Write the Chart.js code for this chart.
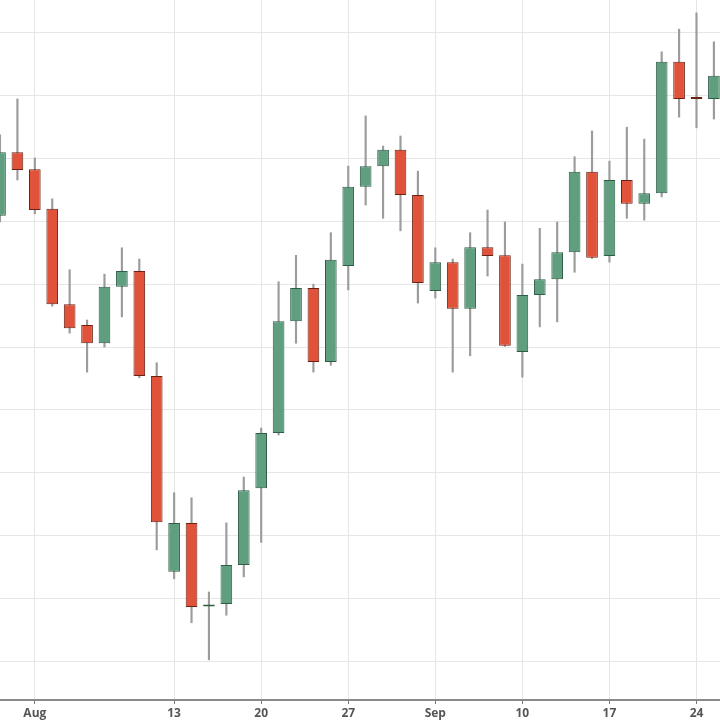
<!DOCTYPE html>
<html>
<head>
<meta charset="utf-8">
<script src="https://cdn.jsdelivr.net/npm/chart.js@4.4.0/dist/chart.umd.min.js"></script>
<style>
  html, body { margin: 0; padding: 0; background: #fff; }
  #wrap { width: 720px; height: 720px; }
</style>
</head>
<body>
<div id="wrap"><canvas id="chart" width="720" height="720"></canvas></div>
<script>
// trading days, weekends skipped
var dates = ['Jul 30','Jul 31','Aug 1','Aug 2','Aug 3','Aug 6','Aug 7','Aug 8','Aug 9','Aug 10',
  'Aug 13','Aug 14','Aug 15','Aug 16','Aug 17','Aug 20','Aug 21','Aug 22','Aug 23','Aug 24',
  'Aug 27','Aug 28','Aug 29','Aug 30','Aug 31','Sep 3','Sep 4','Sep 5','Sep 6','Sep 7',
  'Sep 10','Sep 11','Sep 12','Sep 13','Sep 14','Sep 17','Sep 18','Sep 19','Sep 20','Sep 21',
  'Sep 24','Sep 25'];
var opens  = [37.09, 38.10, 37.83, 37.20, 35.68, 35.35, 35.06, 35.96, 36.21, 34.54,
  31.42, 32.20, 30.87, 30.91, 31.53, 32.75, 33.63, 35.41, 35.94, 34.76,
  36.29, 37.55, 37.88, 38.14, 37.42, 35.89, 36.35, 35.61, 36.59, 36.46,
  34.92, 35.83, 36.08, 36.51, 37.79, 36.45, 37.66, 37.28, 37.45, 39.54,
  38.97, 38.95];
var highs  = [38.38, 38.95, 38.01, 37.36, 36.23, 35.43, 36.16, 36.58, 36.40, 34.75,
  32.68, 32.60, 31.10, 32.20, 32.93, 33.71, 36.04, 36.46, 36.00, 36.82,
  37.88, 38.68, 38.20, 38.36, 37.80, 36.58, 36.40, 36.82, 37.18, 36.99,
  36.32, 36.89, 36.99, 38.03, 38.44, 37.96, 38.50, 38.31, 39.70, 40.06,
  40.32, 39.86];
var lows   = [36.99, 37.66, 37.12, 35.65, 35.22, 34.60, 35.00, 35.48, 34.51, 31.77,
  31.31, 30.61, 30.02, 30.73, 31.34, 31.89, 33.60, 35.06, 34.60, 34.71,
  35.91, 37.26, 37.05, 36.85, 35.70, 35.78, 34.60, 34.86, 36.13, 35.01,
  34.52, 35.32, 35.40, 36.19, 36.41, 36.35, 37.05, 37.02, 37.39, 38.66,
  38.49, 38.63];
var closes = [38.10, 37.82, 37.18, 35.68, 35.30, 35.06, 35.96, 36.21, 34.54, 32.21,
  32.20, 30.86, 30.90, 31.53, 32.72, 33.63, 35.41, 35.94, 34.76, 36.39,
  37.55, 37.88, 38.14, 37.42, 36.02, 36.35, 35.61, 36.59, 36.45, 35.02,
  35.83, 36.08, 36.51, 37.79, 36.42, 37.66, 37.28, 37.45, 39.54, 38.95,
  38.95, 39.32];

var tickIdx  = [2, 10, 15, 20, 25, 30, 35, 40];
var tickText = ['Aug', '13', '20', '27', 'Sep', '10', '17', '24'];
var yGrid    = [30, 31, 32, 33, 34, 35, 36, 37, 38, 39, 40];

var upFill = '#5f9f7f', upLine = '#2f5c45';
var downFill = '#e0533a', downLine = '#6a2216';

var wicks = [], bodies = [], fills = [], lines = [];
dates.forEach(function (d, i) {
  wicks.push({ x: i, y: [lows[i], highs[i]] });
  bodies.push({ x: i, y: [opens[i], closes[i]] });
  var up = closes[i] >= opens[i];
  fills.push(up ? upFill : downFill);
  lines.push(up ? upLine : downLine);
});

new Chart(document.getElementById('chart'), {
  type: 'bar',
  data: {
    datasets: [
      {
        label: 'range',
        data: wicks,
        backgroundColor: '#9c9c9c',
        barThickness: 1.5,
        grouped: false,
        order: 2
      },
      {
        label: 'body',
        data: bodies,
        backgroundColor: fills,
        borderColor: lines,
        borderWidth: 1,
        borderSkipped: false,
        categoryPercentage: 1,
        barPercentage: 0.67,
        minBarLength: 2,
        grouped: false,
        order: 1
      }
    ]
  },
  options: {
    responsive: false,
    animation: false,
    layout: { padding: 0 },
    plugins: { legend: { display: false }, tooltip: { enabled: false } },
    scales: {
      x: {
        type: 'linear',
        min: 0,
        max: 41.35,
        offset: false,
        afterBuildTicks: function (s) { s.ticks = tickIdx.map(function (v) { return { value: v }; }); },
        afterFit: function (s) { s.height = 20; },
        grid: { offset: false, color: '#e6e6e6', tickColor: '#777', tickLength: 4 },
        border: { color: '#8a8a8a', width: 2 },
        ticks: {
          autoSkip: false,
          maxRotation: 0,
          padding: 2,
          color: '#555',
          font: { family: 'Open Sans', size: 12, weight: 'bold' },
          callback: function (v, i) { return tickText[i]; }
        }
      },
      y: {
        min: 29.38,
        max: 40.525,
        afterBuildTicks: function (s) { s.ticks = yGrid.map(function (v) { return { value: v }; }); },
        afterFit: function (s) { s.width = 0; },
        grid: { color: '#e6e6e6', drawTicks: false },
        border: { display: false },
        ticks: { display: false }
      }
    }
  }
});
</script>
</body>
</html>
